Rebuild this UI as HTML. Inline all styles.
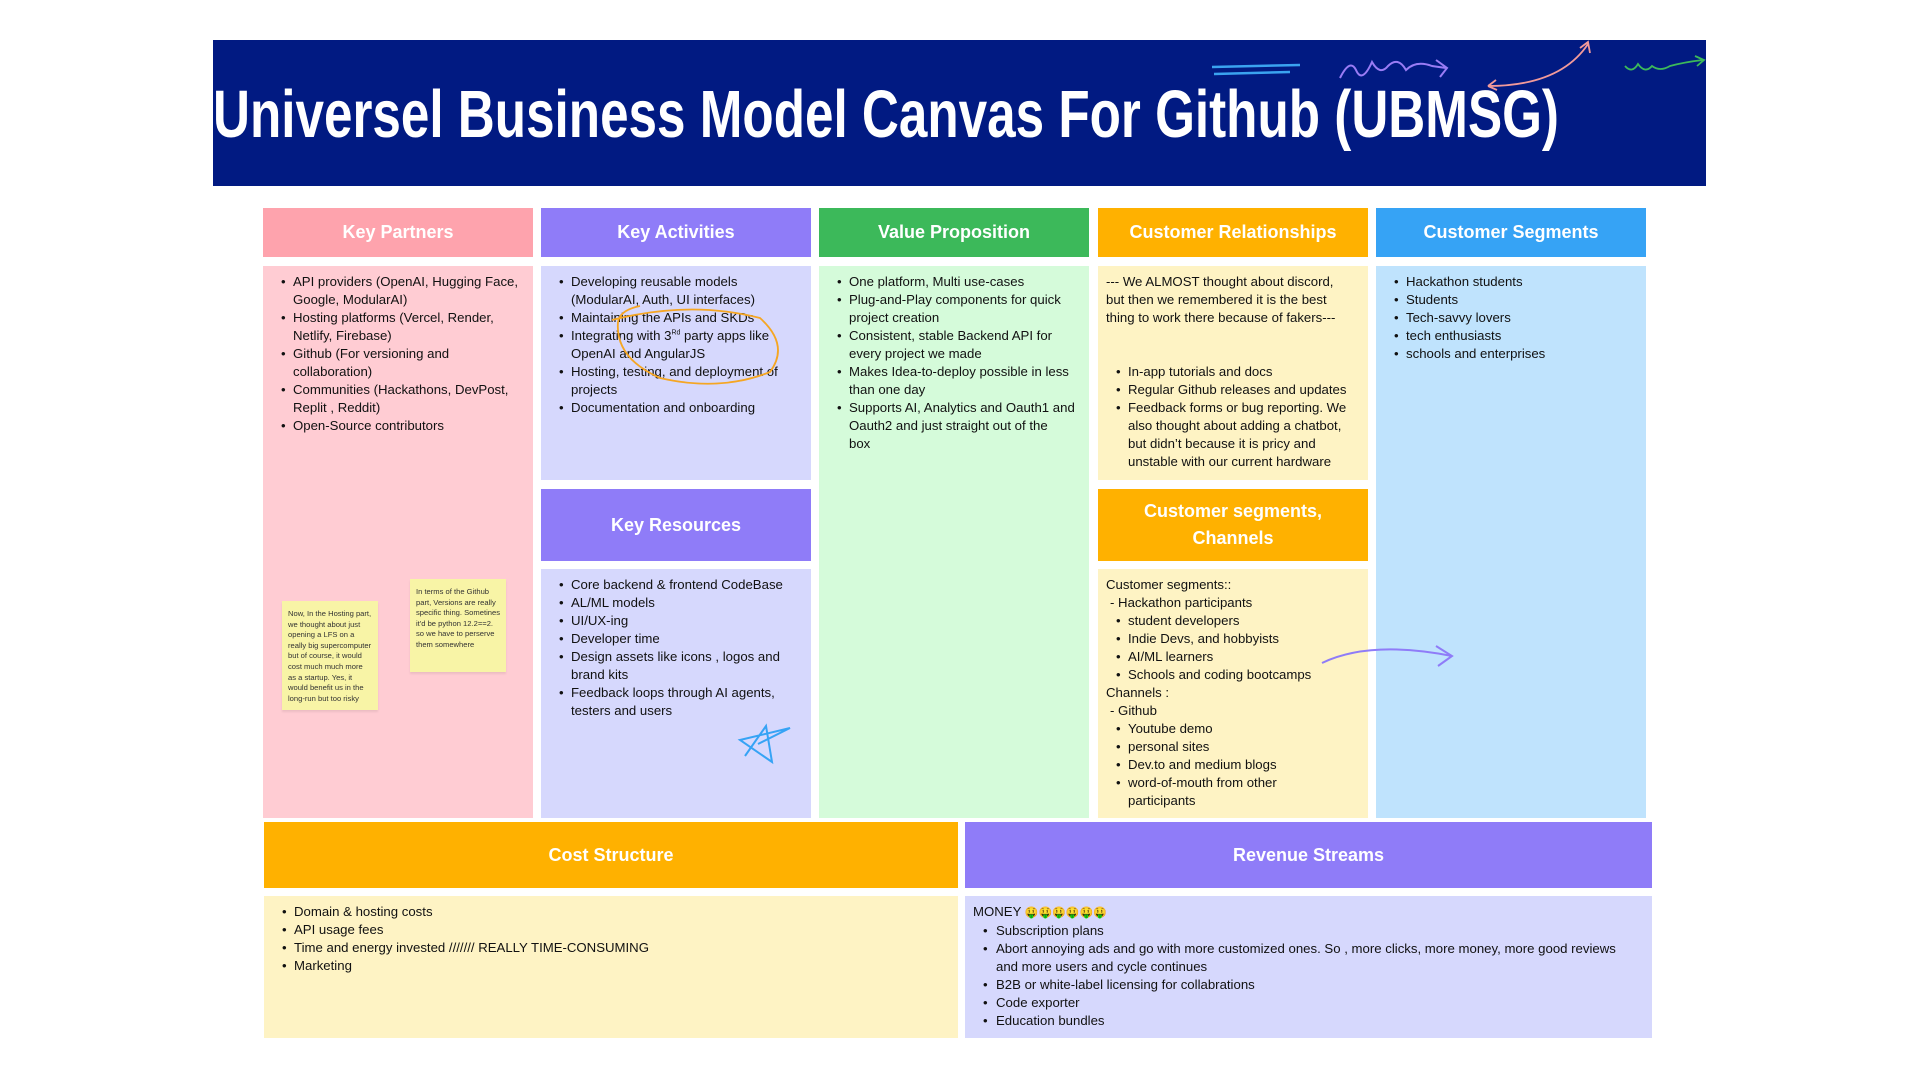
<!DOCTYPE html>
<html><head><meta charset="utf-8"><style>
*{margin:0;padding:0;box-sizing:border-box}
body{width:1920px;height:1080px;background:#fff;position:relative;overflow:hidden;font-family:"Liberation Sans","Noto Sans CJK SC",sans-serif;color:#111}
.a{position:absolute}
.h{position:absolute;color:#fff;font-weight:bold;font-size:18px;display:flex;align-items:center;justify-content:center;text-align:center;line-height:27px}
.bd{position:absolute;font-size:13.2px;line-height:18px;white-space:nowrap;padding-top:7px}
.l{position:relative}
.b{position:relative;padding-left:30px}
.b:before{content:"•";position:absolute;left:18px}
.note{position:absolute;background:#f8f4a6;font-size:7.6px;line-height:10.6px;color:#333;padding:8px 6px;box-shadow:0 2px 2px rgba(0,0,0,.08);white-space:nowrap}
</style></head><body>
<div class="a" style="left:213px;top:40px;width:1493px;height:146px;background:#011a82"></div>
<svg class="a" style="left:0;top:0" width="1920" height="200">
<text x="213" y="137" fill="#fff" font-family="Liberation Sans" font-weight="bold" font-size="67" textLength="1346" lengthAdjust="spacingAndGlyphs">Universel Business Model Canvas For Github (UBMSG)</text>
<path d="M1212 67 L1300 65 M1214 74 L1290 72" stroke="#3aa3f0" stroke-width="2.5" fill="none"/>
<path d="M1340 78 Q1350 58 1356 70 Q1362 84 1372 62 Q1380 76 1388 66 Q1398 56 1406 70 Q1416 60 1432 66 L1446 68 M1436 60 L1447 68 L1440 77" stroke="#9a7cf5" stroke-width="2" fill="none"/>
<path d="M1488 86 Q1560 86 1588 44 M1580 48 L1588 42 L1590 53 M1488 86 L1496 80 M1488 86 L1497 90" stroke="#f29a9a" stroke-width="1.8" fill="none"/>
<path d="M1625 66 Q1632 74 1638 64 Q1645 74 1652 66 Q1660 72 1670 66 Q1685 62 1703 60 M1695 56 L1704 60 L1697 66" stroke="#3cb95a" stroke-width="1.8" fill="none"/>
</svg>

<div class="h" style="left:263px;top:208px;width:270px;height:49px;background:#fea3ad">Key Partners</div>
<div class="h" style="left:541px;top:208px;width:270px;height:49px;background:#8f7cf8">Key Activities</div>
<div class="h" style="left:819px;top:208px;width:270px;height:49px;background:#3cb95a">Value Proposition</div>
<div class="h" style="left:1098px;top:208px;width:270px;height:49px;background:#ffb100">Customer Relationships</div>
<div class="h" style="left:1376px;top:208px;width:270px;height:49px;background:#36a3f5">Customer Segments</div>

<div class="bd" style="left:263px;top:266px;width:270px;height:552px;background:#ffccd3">
<div class="b">API providers (OpenAI, Hugging Face,<br>Google, ModularAI)</div>
<div class="b">Hosting platforms (Vercel, Render,<br>Netlify, Firebase)</div>
<div class="b">Github (For versioning and<br>collaboration)</div>
<div class="b">Communities (Hackathons, DevPost,<br>Replit , Reddit)</div>
<div class="b">Open-Source contributors</div>
</div>
<div class="note" style="left:282px;top:601px;width:96px;height:109px">Now, In the Hosting part,<br>we thought about just<br>opening a LFS on a<br>really big supercomputer<br>but of course, it would<br>cost much much more<br>as a startup. Yes, it<br>would benefit us in the<br>long-run but too risky</div>
<div class="note" style="left:410px;top:579px;width:96px;height:93px">In terms of the Github<br>part, Versions are really<br>specific thing. Sometines<br>it'd be python 12.2==2.<br>so we have to perserve<br>them somewhere</div>

<div class="bd" style="left:541px;top:266px;width:270px;height:214px;background:#d6d8fd">
<div class="b">Developing reusable models<br>(ModularAI, Auth, UI interfaces)</div>
<div class="b">Maintaining the APIs and SKDs</div>
<div class="b">Integrating with 3<sup style="font-size:7px;line-height:0">Rd</sup> party apps like<br>OpenAI and AngularJS</div>
<div class="b">Hosting, testing, and deployment of<br>projects</div>
<div class="b">Documentation and onboarding</div>
</div>
<div class="h" style="left:541px;top:489px;width:270px;height:72px;background:#8f7cf8">Key Resources</div>
<div class="bd" style="left:541px;top:569px;width:270px;height:249px;background:#d6d8fd">
<div class="b">Core backend &amp; frontend CodeBase</div>
<div class="b">AL/ML models</div>
<div class="b">UI/UX-ing</div>
<div class="b">Developer time</div>
<div class="b">Design assets like icons , logos and<br>brand kits</div>
<div class="b">Feedback loops through AI agents,<br>testers and users</div>
</div>

<div class="bd" style="left:819px;top:266px;width:270px;height:552px;background:#d5fbda">
<div class="b">One platform, Multi use-cases</div>
<div class="b">Plug-and-Play components for quick<br>project creation</div>
<div class="b">Consistent, stable Backend API for<br>every project we made</div>
<div class="b">Makes Idea-to-deploy possible in less<br>than one day</div>
<div class="b">Supports AI, Analytics and Oauth1 and<br>Oauth2 and just straight out of the<br>box</div>
</div>

<div class="bd" style="left:1098px;top:266px;width:270px;height:214px;background:#fef3c4">
<div class="l" style="padding-left:8px">--- We ALMOST thought about discord,<br>but then we remembered it is the best<br>thing to work there because of fakers---<br>&nbsp;<br>&nbsp;</div>
<div class="b">In-app tutorials and docs</div>
<div class="b">Regular Github releases and updates</div>
<div class="b">Feedback forms or bug reporting. We<br>also thought about adding a chatbot,<br>but didn’t because it is pricy and<br>unstable with our current hardware</div>
</div>
<div class="h" style="left:1098px;top:489px;width:270px;height:72px;background:#ffb100">Customer segments,<br>Channels</div>
<div class="bd" style="left:1098px;top:569px;width:270px;height:249px;background:#fef3c4">
<div class="l" style="padding-left:8px">Customer segments::</div>
<div class="l" style="padding-left:12px">- Hackathon participants</div>
<div class="b">student developers</div>
<div class="b">Indie Devs, and hobbyists</div>
<div class="b">AI/ML learners</div>
<div class="b">Schools and coding bootcamps</div>
<div class="l" style="padding-left:8px">Channels :</div>
<div class="l" style="padding-left:12px">- Github</div>
<div class="b">Youtube demo</div>
<div class="b">personal sites</div>
<div class="b">Dev.to and medium blogs</div>
<div class="b">word-of-mouth from other<br>participants</div>
</div>

<div class="bd" style="left:1376px;top:266px;width:270px;height:552px;background:#bfe3fd">
<div class="b">Hackathon students</div>
<div class="b">Students</div>
<div class="b">Tech-savvy lovers</div>
<div class="b">tech enthusiasts</div>
<div class="b">schools and enterprises</div>
</div>

<div class="h" style="left:264px;top:822px;width:694px;height:66px;background:#ffb100">Cost Structure</div>
<div class="h" style="left:965px;top:822px;width:687px;height:66px;background:#8f7cf8">Revenue Streams</div>
<div class="bd" style="left:264px;top:896px;width:694px;height:142px;background:#fef3c4">
<div class="b">Domain &amp; hosting costs</div>
<div class="b">API usage fees</div>
<div class="b">Time and energy invested /////// REALLY TIME-CONSUMING</div>
<div class="b">Marketing</div>
</div>
<div class="bd" style="left:965px;top:896px;width:687px;height:142px;background:#d6d8fd">
<div class="l" style="padding-left:8px">MONEY <span style="font-size:11px;color:#e0a800">🤑🤑🤑🤑🤑🤑</span></div>
<div class="b" style="padding-left:31px">Subscription plans</div>
<div class="b" style="padding-left:31px">Abort annoying ads and go with more customized ones. So , more clicks, more money, more good reviews<br>and more users and cycle continues</div>
<div class="b" style="padding-left:31px">B2B or white-label licensing for collabrations</div>
<div class="b" style="padding-left:31px">Code exporter</div>
<div class="b" style="padding-left:31px">Education bundles</div>
</div>

<svg class="a" style="left:0;top:0" width="1920" height="1080" fill="none">
<path d="M612 320 Q690 300 760 318 Q790 345 770 372 Q720 392 660 378 Q615 358 618 322 Q620 310 640 306" stroke="#f5a623" stroke-width="1.8"/>
<path d="M745 756 L766 726 L772 762 L740 740 L790 728 L758 744" stroke="#36a3f5" stroke-width="2"/>
<path d="M1322 663 Q1370 640 1452 656 M1436 646 L1452 656 L1438 666" stroke="#8f7cf8" stroke-width="2"/>
</svg>
</body></html>
